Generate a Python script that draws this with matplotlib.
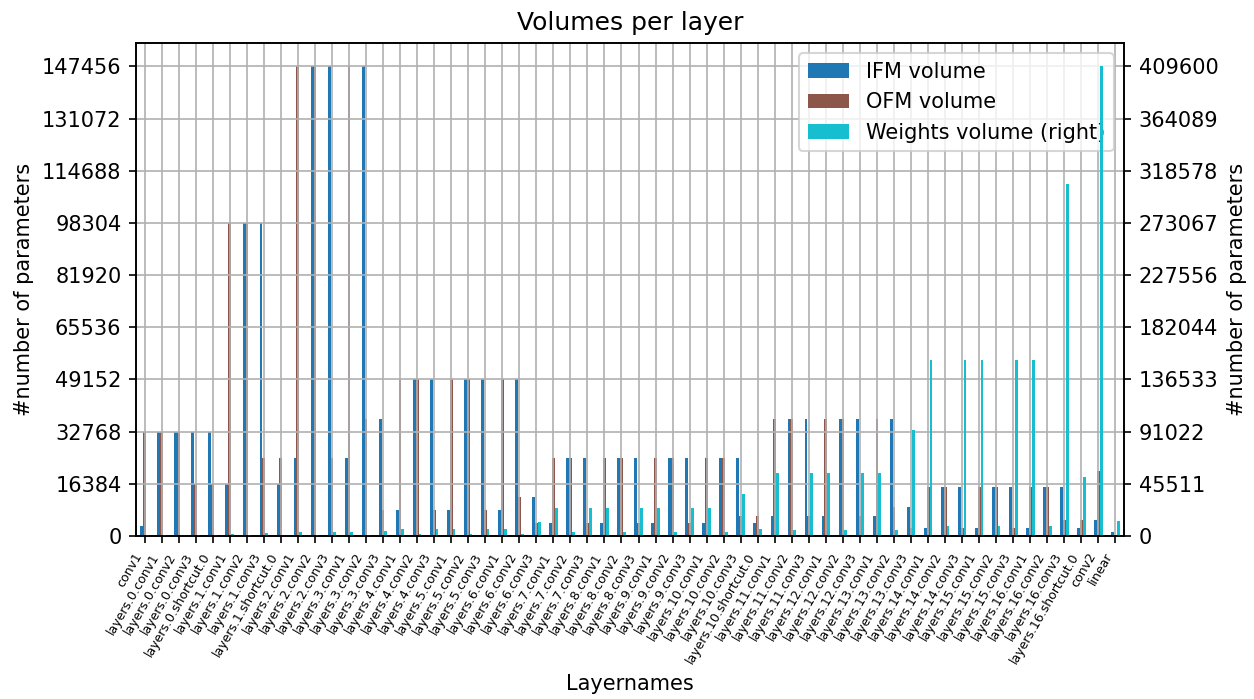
import matplotlib
matplotlib.use("Agg")
import matplotlib.pyplot as plt
import numpy as np
import pandas as pd

# --- Data ---
layernames = ["conv1",
              "layers.0.conv1", "layers.0.conv2", "layers.0.conv3", "layers.0.shortcut.0",
              "layers.1.conv1", "layers.1.conv2", "layers.1.conv3", "layers.1.shortcut.0",
              "layers.2.conv1", "layers.2.conv2", "layers.2.conv3",
              "layers.3.conv1", "layers.3.conv2", "layers.3.conv3",
              "layers.4.conv1", "layers.4.conv2", "layers.4.conv3",
              "layers.5.conv1", "layers.5.conv2", "layers.5.conv3",
              "layers.6.conv1", "layers.6.conv2", "layers.6.conv3",
              "layers.7.conv1", "layers.7.conv2", "layers.7.conv3",
              "layers.8.conv1", "layers.8.conv2", "layers.8.conv3",
              "layers.9.conv1", "layers.9.conv2", "layers.9.conv3",
              "layers.10.conv1", "layers.10.conv2", "layers.10.conv3", "layers.10.shortcut.0",
              "layers.11.conv1", "layers.11.conv2", "layers.11.conv3",
              "layers.12.conv1", "layers.12.conv2", "layers.12.conv3",
              "layers.13.conv1", "layers.13.conv2", "layers.13.conv3",
              "layers.14.conv1", "layers.14.conv2", "layers.14.conv3",
              "layers.15.conv1", "layers.15.conv2", "layers.15.conv3",
              "layers.16.conv1", "layers.16.conv2", "layers.16.conv3", "layers.16.shortcut.0",
              "conv2", "linear"]

ifm_volume = [3072,
              32768, 32768, 32768, 32768,
              16384, 98304, 98304, 16384,
              24576, 147456, 147456,
              24576, 147456, 36864,
              8192, 49152, 49152,
              8192, 49152, 49152,
              8192, 49152, 12288,
              4096, 24576, 24576,
              4096, 24576, 24576,
              4096, 24576, 24576,
              4096, 24576, 24576, 4096,
              6144, 36864, 36864,
              6144, 36864, 36864,
              6144, 36864, 9216,
              2560, 15360, 15360,
              2560, 15360, 15360,
              2560, 15360, 15360, 2560,
              5120, 1280]

ofm_volume = [32768,
              32768, 32768, 16384, 16384,
              98304, 98304, 24576, 24576,
              147456, 147456, 24576,
              147456, 36864, 8192,
              49152, 49152, 8192,
              49152, 49152, 8192,
              49152, 12288, 4096,
              24576, 24576, 4096,
              24576, 24576, 4096,
              24576, 24576, 4096,
              24576, 24576, 6144, 6144,
              36864, 36864, 6144,
              36864, 36864, 6144,
              36864, 9216, 2560,
              15360, 15360, 2560,
              15360, 15360, 2560,
              15360, 15360, 5120, 5120,
              20480, 10]

weights_volume = [864,
                  1024, 288, 512, 512,
                  1536, 864, 2304, 384,
                  3456, 1296, 3456,
                  3456, 1296, 4608,
                  6144, 1728, 6144,
                  6144, 1728, 6144,
                  6144, 1728, 12288,
                  24576, 3456, 24576,
                  24576, 3456, 24576,
                  24576, 3456, 24576,
                  24576, 3456, 36864, 6144,
                  55296, 5184, 55296,
                  55296, 5184, 55296,
                  55296, 5184, 92160,
                  153600, 8640, 153600,
                  153600, 8640, 153600,
                  153600, 8640, 307200, 51200,
                  409600, 12800]


def main():
    df = pd.DataFrame({"IFM volume": ifm_volume,
                       "OFM volume": ofm_volume,
                       "Weights volume": weights_volume}, index=layernames)

    dpi = 150
    fig, ax = plt.subplots(figsize=(1254 / dpi, 699 / dpi), dpi=dpi)
    fig.subplots_adjust(left=0.1085, right=0.8963, top=0.9385, bottom=0.2332)

    ax = df.plot.bar(ax=ax, secondary_y=["Weights volume"], colormap="tab10", rot=60)
    ax2 = ax.right_ax

    # ticks: 10 evenly spaced values from 0 to max
    left_ticks = np.linspace(0, max(max(ifm_volume), max(ofm_volume)), 10)
    right_ticks = np.linspace(0, max(weights_volume), 10)
    ax.set_yticks(left_ticks)
    ax.set_yticklabels([f"{v:.0f}" for v in left_ticks])
    ax2.set_yticks(right_ticks)
    ax2.set_yticklabels([f"{v:.0f}" for v in right_ticks])

    ax.set_xticks(range(len(layernames)))
    ax.set_xticklabels(layernames, rotation=60, ha="right", fontsize=6)

    ax.grid(True)
    ax.set_title("Volumes per layer")
    ax.set_xlabel("Layernames")
    ax.set_ylabel("#number of parameters")
    ax2.set_ylabel("#number of parameters")

    fig.savefig("out.png", dpi=dpi)


if __name__ == "__main__":
    main()
